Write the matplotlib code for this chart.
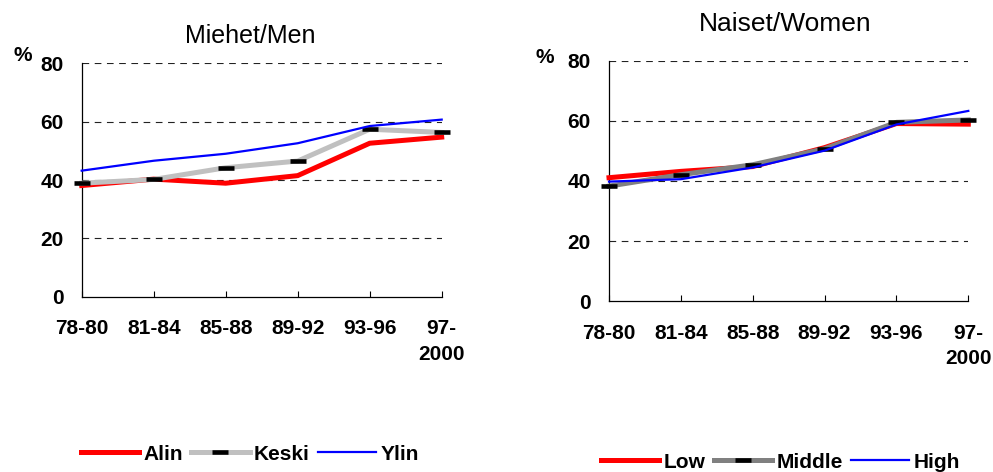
"""Two-panel line chart: share by education level, men and women, 1978-2000."""

import matplotlib

matplotlib.use("Agg")
import matplotlib.pyplot as plt

plt.rcParams["font.family"] = ["Liberation Sans", "DejaVu Sans"]

PERIODS = ["78-80", "81-84", "85-88", "89-92", "93-96", "97-\n2000"]
Y_TICKS = [0, 20, 40, 60, 80]

# Miehet/Men
MEN_LABELS = ["Alin", "Keski", "Ylin"]
MEN_LOW = [38.1, 40.3, 38.9, 41.5, 52.6, 54.7]
MEN_MID = [38.9, 40.2, 44.2, 46.5, 57.4, 56.3]
MEN_HIGH = [43.2, 46.6, 49.0, 52.6, 58.5, 60.7]

# Naiset/Women
WOMEN_LABELS = ["Low", "Middle", "High"]
WOMEN_LOW = [41.1, 43.2, 44.8, 51.1, 59.1, 58.9]
WOMEN_MID = [38.3, 42.1, 45.4, 50.7, 59.5, 60.3]
WOMEN_HIGH = [39.8, 40.6, 44.5, 50.1, 58.8, 63.3]

W, H = 993, 472


def style_axes(ax):
    ax.set_xlim(0, len(PERIODS) - 1)
    ax.set_ylim(0, 80)
    ax.set_xticks(range(len(PERIODS)))
    ax.set_xticklabels(PERIODS, fontsize=15, fontweight="bold", linespacing=1.45)
    ax.set_yticks(Y_TICKS)
    ax.set_yticklabels([str(t) for t in Y_TICKS], fontsize=15, fontweight="bold")
    ax.tick_params(axis="x", direction="in", length=4.5, width=0.8, pad=16)
    ax.tick_params(axis="y", length=0, pad=13)
    for side in ("top", "right"):
        ax.spines[side].set_visible(False)
    for side in ("left", "bottom"):
        ax.spines[side].set_linewidth(0.9)
    for t in Y_TICKS[1:]:
        ax.axhline(t, color="#222222", lw=0.8, dashes=(6, 5), zorder=1)


def draw_panel(ax, low, mid, high, labels, mid_color):
    x = range(len(PERIODS))
    l1, = ax.plot(x, low, color="#ff0000", lw=3.6, clip_on=False, zorder=3,
                  solid_joinstyle="miter", label=labels[0])
    l2, = ax.plot(x, mid, color=mid_color, lw=3.6, marker="_", ms=11, mew=3.3,
                  mec="black", clip_on=False, zorder=4, label=labels[1])
    l3, = ax.plot(x, high, color="#0000ff", lw=1.6, clip_on=False, zorder=5,
                  label=labels[2])
    return [l1, l2, l3]


fig = plt.figure(figsize=(W / 100, H / 100), dpi=100)

ax1 = fig.add_axes([81.7 / W, 1 - 296.7 / H, 360 / W, 233.4 / H])
ax2 = fig.add_axes([609 / W, 1 - 301.3 / H, 359.3 / W, 240.6 / H])

h1 = draw_panel(ax1, MEN_LOW, MEN_MID, MEN_HIGH, MEN_LABELS, "#c0c0c0")
h2 = draw_panel(ax2, WOMEN_LOW, WOMEN_MID, WOMEN_HIGH, WOMEN_LABELS, "#808080")
style_axes(ax1)
style_axes(ax2)

fig.text(250 / W, 1 - 43 / H, "Miehet/Men", ha="center", va="baseline", fontsize=18)
fig.text(785 / W, 1 - 30.7 / H, "Naiset/Women", ha="center", va="baseline", fontsize=19)
fig.text(13 / W, 1 - 61 / H, "%", ha="left", va="baseline", fontsize=15, fontweight="bold")
fig.text(536 / W, 1 - 63 / H, "%", ha="left", va="baseline", fontsize=15, fontweight="bold")

legend_kw = dict(frameon=False, ncol=3, loc="center left", borderpad=0, borderaxespad=0,
                 handlelength=2.8, handletextpad=0.2, columnspacing=0.4, numpoints=1,
                 prop={"weight": "bold", "size": 15})
fig.legend(handles=h1, bbox_to_anchor=(81 / W, 1 - 454 / H), **legend_kw)
fig.legend(handles=h2, bbox_to_anchor=(601 / W, 1 - 462 / H), **legend_kw)

fig.savefig("out.png", dpi=100)
